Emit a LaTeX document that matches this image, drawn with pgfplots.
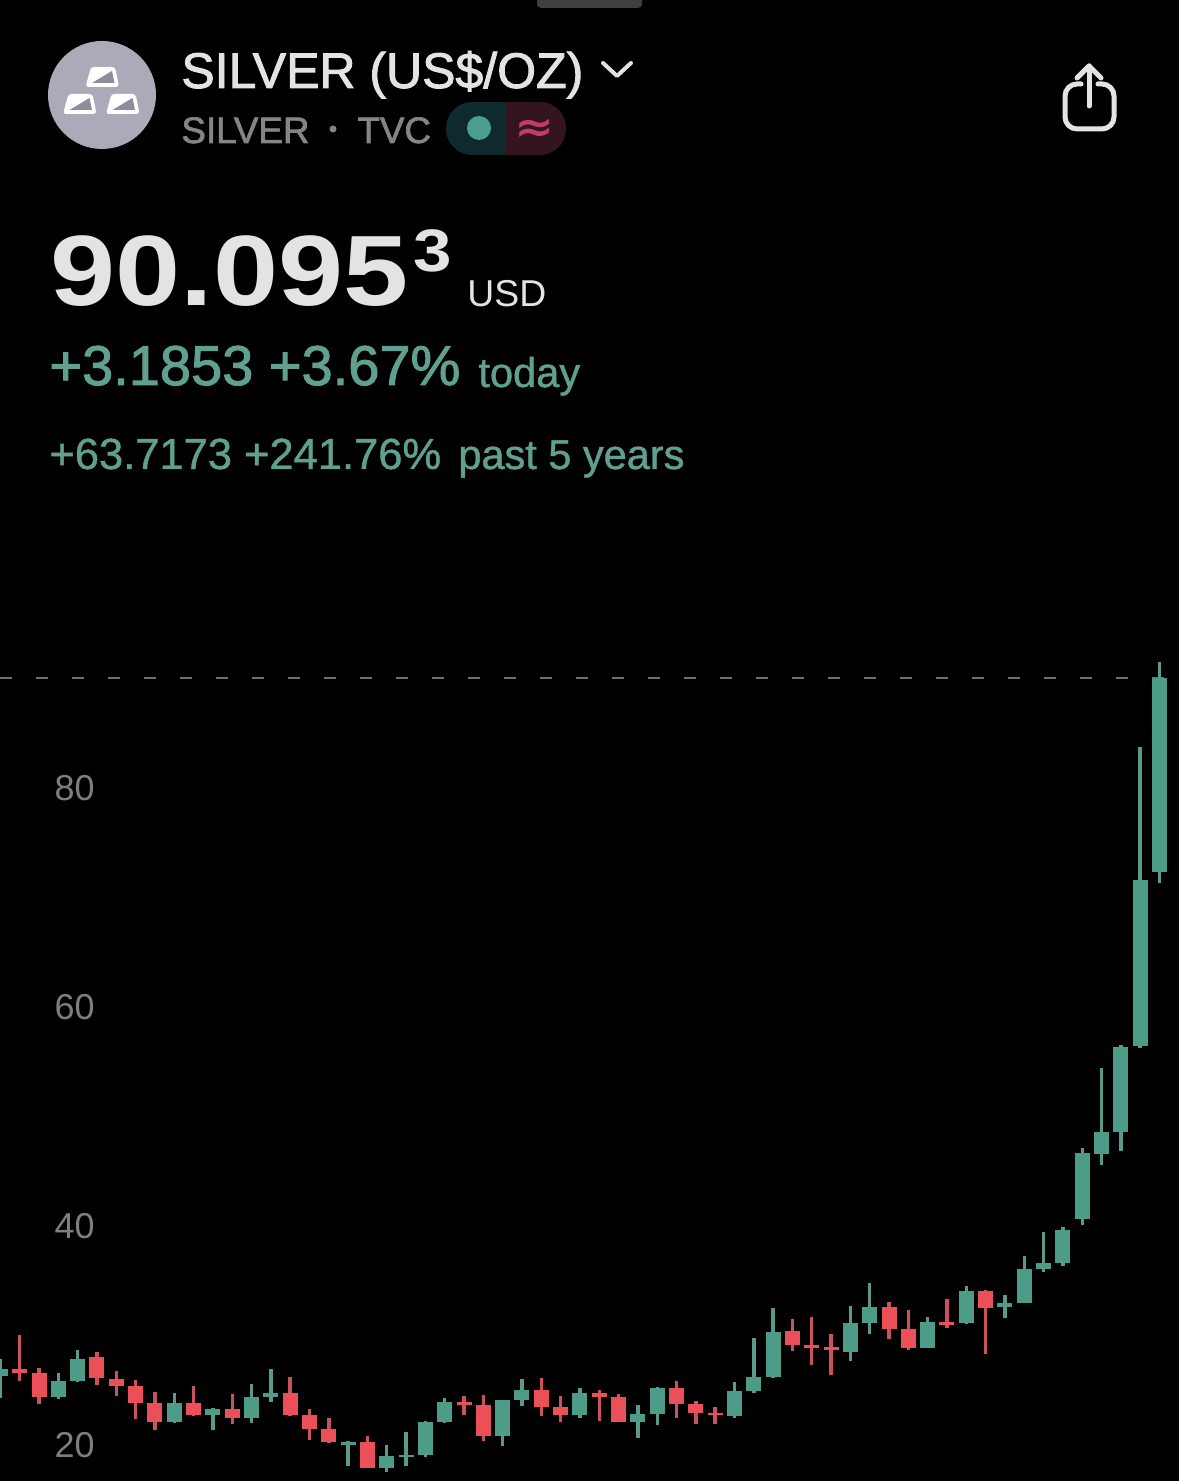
\documentclass[border=0pt]{standalone}
\usepackage{fontspec}
\usepackage{graphicx}
\usepackage{pgfplots}
\usepackage{pgfplotstable}
\pgfplotsset{compat=1.18}
\setmainfont{Liberation Sans}
\newfontfamily\medfont[FakeBold=1.8]{Liberation Sans}
\newfontfamily\lightmed[FakeBold=1.0]{Liberation Sans}
\newfontfamily\symfont[FakeBold=1.5]{DejaVu Sans}
\definecolor{upbody}{HTML}{4D9C88}
\definecolor{upwick}{HTML}{5B9A8A}
\definecolor{downbody}{HTML}{EB4F57}
\definecolor{downwick}{HTML}{C9525C}
\definecolor{ticktxt}{HTML}{7E7E7E}
\definecolor{greentxt}{HTML}{5FA091}
\definecolor{titletxt}{HTML}{E3E3E3}
\definecolor{subtxt}{HTML}{858585}
\definecolor{dashc}{HTML}{6E6E6E}
\definecolor{logoc}{HTML}{ACAAB8}
\definecolor{logod}{HTML}{8F8D9C}
\definecolor{pilll}{HTML}{0E2A2E}
\definecolor{pillr}{HTML}{33141F}
\definecolor{pinkc}{HTML}{C23B6E}
\definecolor{dotc}{HTML}{4C9F8C}
\pgfplotstableread{
x o h l c
0 26.33 27.83 24.29 26.94
3 24.38 26.55 24.23 25.84
4 25.84 28.68 25.78 27.83
9 22.07 24.72 22.01 23.81
11 22.77 23.35 21.37 23.29
13 22.49 25.54 22.04 24.36
14 24.38 26.91 23.93 24.72
18 20.00 20.34 18.08 20.27
20 17.90 19.97 17.53 19.00
21 18.88 21.16 18.11 19.09
22 19.11 22.19 18.88 22.10
23 22.10 24.26 22.04 23.90
26 20.85 24.08 19.94 24.08
27 24.11 26.03 23.56 25.00
30 22.74 25.18 22.49 24.72
33 22.13 23.63 20.67 22.83
34 22.83 25.27 21.85 25.21
38 22.65 25.75 22.49 24.93
39 24.96 29.74 24.78 26.18
40 26.21 32.51 26.09 30.32
44 28.49 32.67 27.70 31.14
45 31.14 34.77 30.16 32.60
48 28.89 31.69 28.89 31.23
50 31.11 34.52 31.05 34.04
52 32.58 33.67 31.60 32.94
53 33.00 37.23 33.00 36.05
54 36.10 39.42 35.83 36.59
55 36.59 39.88 36.37 39.63
56 40.64 47.12 40.09 46.67
57 46.60 54.43 45.57 48.58
58 48.61 56.53 46.88 56.37
59 56.47 83.74 56.26 71.60
60 72.36 91.51 71.32 90.05
}\upcandles
\pgfplotstableread{
x o h l c
1 26.94 30.05 25.84 26.58
2 26.58 27.00 23.74 24.38
5 28.01 28.47 25.48 26.09
6 26.03 26.73 24.47 25.39
7 25.39 25.91 22.37 23.84
8 23.81 24.81 21.37 22.10
10 23.81 25.36 22.68 22.74
12 23.29 24.63 21.92 22.49
15 24.75 26.18 22.68 22.74
16 22.74 23.26 20.46 21.46
17 21.46 22.44 20.21 20.27
19 20.25 20.79 17.90 17.90
24 23.93 24.47 22.74 23.65
25 23.65 24.54 20.39 20.85
28 25.02 26.12 22.68 23.47
29 23.44 24.47 22.10 22.77
31 24.78 25.00 22.19 24.41
32 24.38 24.68 22.10 22.10
35 25.21 25.82 22.47 23.74
36 23.74 23.99 21.92 22.95
37 22.95 23.44 21.92 22.71
41 30.41 31.48 28.61 29.13
42 29.11 31.66 27.31 28.89
43 28.95 30.11 26.39 28.68
46 32.60 33.03 29.68 30.59
47 30.59 32.30 28.70 28.83
49 31.23 33.33 30.68 30.99
51 34.06 34.13 28.31 32.51
}\downcandles
\newcommand\T[5]{\node[anchor=base west,inner sep=0pt,text=#4] at (#1,#2) {\fontsize{#3}{#3}\selectfont #5};}
\begin{document}
\begin{tikzpicture}
\useasboundingbox (0,0) rectangle (589.5pt,740.5pt);
\begin{axis}[
  at={(0,0)},anchor=south west,
  scale only axis,width=589.5pt,height=740.5pt,
  xmin=-0.02,xmax=61.01,ymin=16.712,ymax=151.96,
  axis background/.style={fill=black},
  axis line style={draw=none},
  major tick length=0pt,
  xtick=\empty,
  ytick={20,40,60,80},
  /pgf/number format/assume math mode=true,
  yticklabel style={anchor=east,inner sep=0pt,xshift=47.5pt,text=ticktxt,
    font=\fontsize{18pt}{18pt}\selectfont},
]
\addplot[dashc,line width=0.7pt,dash pattern=on 6pt off 12pt] coordinates {(-0.02,90.05) (61.01,90.05)};
% wicks
\addplot[draw=none,mark=none,error bars/.cd,y dir=plus,y explicit,error mark=none,
  error bar style={color=upwick,line width=1.7pt}]
  table[x=x,y=l,y error plus expr=\thisrow{h}-\thisrow{l}] {\upcandles};
\addplot[draw=none,mark=none,error bars/.cd,y dir=plus,y explicit,error mark=none,
  error bar style={color=downwick,line width=1.7pt}]
  table[x=x,y=l,y error plus expr=\thisrow{h}-\thisrow{l}] {\downcandles};
% bodies
\addplot[draw=none,mark=none,error bars/.cd,y dir=plus,y explicit,error mark=none,
  error bar style={color=upbody,line width=7.5pt}]
  table[x=x,y=o,y error plus expr=\thisrow{c}-\thisrow{o}] {\upcandles};
\addplot[draw=none,mark=none,error bars/.cd,y dir=plus,y explicit,error mark=none,
  error bar style={color=downbody,line width=7.5pt}]
  table[x=x,y=c,y error plus expr=\thisrow{o}-\thisrow{c}] {\downcandles};
\end{axis}
\begin{scope}[shift={(0,740.5pt)},x=0.5pt,y=-0.5pt]
% top handle
\fill[black!75!white,rounded corners=2pt] (537,-6) rectangle (642,8);
% logo
\fill[logoc] (102,95) circle (54);
\foreach \dx/\dy in {0/0,-22.5/27,20.5/27}{
  \begin{scope}[shift={(\dx,\dy)}]
  \fill[white,rounded corners=1.5pt] (91,67) -- (115,67) -- (119,87) -- (85.5,87) -- cycle;
  \fill[logod] (92,83) -- (112,71) -- (114.5,83) -- cycle;
  \end{scope}
}
% title
\T{181}{88}{25pt}{titletxt}{\medfont SILVER (US\$/OZ)}
\draw[titletxt,line width=2pt,line cap=round,line join=round] (603,63) -- (617,76) -- (631,63);
\T{181}{143}{18.4pt}{subtxt}{\medfont SILVER}
\fill[subtxt] (333,129) circle (3.5);
\T{357}{143}{18.4pt}{subtxt}{\medfont TVC}
% pill
\begin{scope}
\clip[rounded corners=13pt] (446,102) rectangle (566,155);
\fill[pilll] (446,102) rectangle (506,155);
\fill[pillr] (506,102) rectangle (566,155);
\end{scope}
\fill[dotc] (479,128) circle (12);
\node[inner sep=0pt,text=pinkc] at (534,131) {\fontsize{23pt}{23pt}\selectfont\symfont ≈};
% share
\draw[titletxt,line width=2.5pt,line cap=round,line join=round,rounded corners=6pt]
  (1081,84) -- (1065,84) -- (1065,129) -- (1114,129) -- (1114,84) -- (1098,84);
\draw[titletxt,line width=2.5pt,line cap=round,line join=round] (1089,106) -- (1089,66);
\draw[titletxt,line width=2.5pt,line cap=round,line join=round] (1077,78) -- (1089,66) -- (1101,78);
% price
\node[anchor=base west,inner sep=0pt,text=titletxt] at (50,306) {\scalebox{1.17}[1]{\fontsize{50pt}{50pt}\selectfont\bfseries 90.095}};
\node[anchor=base west,inner sep=0pt,text=titletxt] at (413,272) {\scalebox{1.15}[1]{\fontsize{30pt}{30pt}\selectfont\bfseries 3}};
\T{467}{307}{18.7pt}{titletxt}{USD}
\T{49}{385}{28pt}{greentxt}{\medfont +3.1853 +3.67\%}
\T{478}{387}{20.8pt}{greentxt}{\lightmed today}
\T{49}{469}{21.75pt}{greentxt}{\lightmed +63.7173 +241.76\%}
\T{458}{469}{20.75pt}{greentxt}{\lightmed past 5 years}
\end{scope}
\end{tikzpicture}
\end{document}
